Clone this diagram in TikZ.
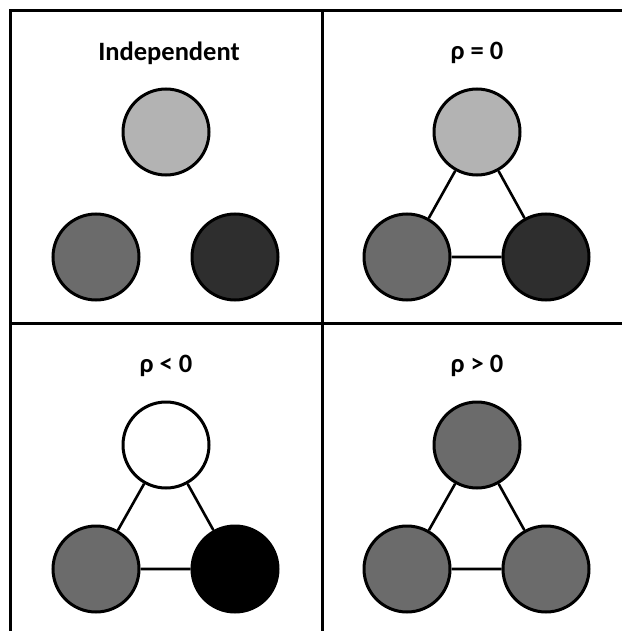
\documentclass[tikz,border=0pt]{standalone}
\usepackage{fontspec}
\setmainfont{Carlito}
\definecolor{lgray}{HTML}{B3B3B3}
\definecolor{mgray}{HTML}{6B6B6B}
\definecolor{dgray}{HTML}{2E2E2E}
\tikzset{
  ball/.style={circle, draw=black, line width=3pt, minimum size=86pt, inner sep=0pt},
  link/.style={line width=2.6pt},
  frame/.style={line width=3pt},
  title/.style={font=\bfseries\fontsize{26.5}{30}\selectfont, inner sep=0pt}
}
\begin{document}
\begin{tikzpicture}[x=1pt,y=-1pt]
\useasboundingbox (0,0) rectangle (622,631);
\fill[white] (0,0) rectangle (622,631);
% frame
\draw[frame] (10,631) -- (10,11) -- (622,11);
\draw[frame] (322,11) -- (322,631);
\draw[frame] (10,323) -- (622,323);
% titles
\node[title] (t1) at (169,53) {Independent};
\node[title] (t2) at (477,53) {ρ = 0};
\node[title] (t3) at (166,366) {ρ < 0};
\node[title] (t4) at (477,366) {ρ > 0};
% panel 1
\node[ball, fill=lgray] (a1) at (166,132) {};
\node[ball, fill=mgray] (b1) at (96,257) {};
\node[ball, fill=dgray] (c1) at (235,257) {};
% panel 2
\node[ball, fill=lgray] (a2) at (477,132) {};
\node[ball, fill=mgray] (b2) at (407,257) {};
\node[ball, fill=dgray] (c2) at (546,257) {};
% panel 3
\node[ball, fill=white] (a3) at (166,445) {};
\node[ball, fill=mgray] (b3) at (96,569) {};
\node[ball, fill=black] (c3) at (235,569) {};
% panel 4
\node[ball, fill=mgray] (a4) at (477,445) {};
\node[ball, fill=mgray] (b4) at (407,569) {};
\node[ball, fill=mgray] (c4) at (546,569) {};
% links
\draw[link] (a2) -- (b2) (a2) -- (c2) (b2) -- (c2);
\draw[link] (a3) -- (b3) (a3) -- (c3) (b3) -- (c3);
\draw[link] (a4) -- (b4) (a4) -- (c4) (b4) -- (c4);
\end{tikzpicture}
\end{document}
